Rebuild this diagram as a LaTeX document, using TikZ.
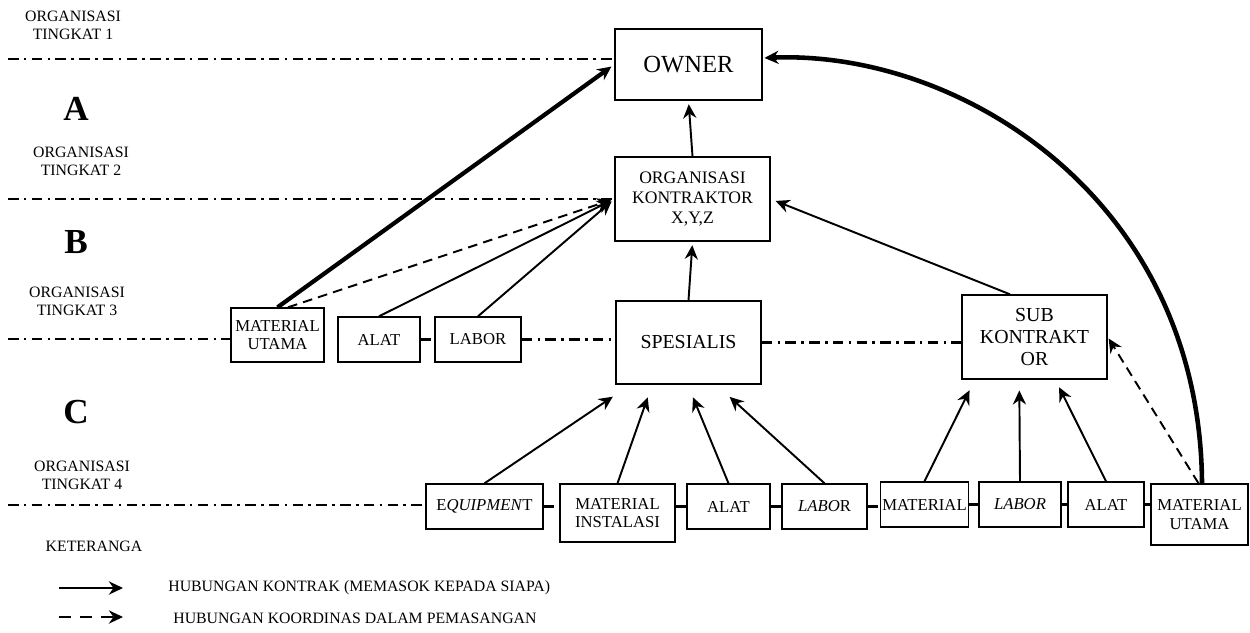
\documentclass[tikz,border=0pt]{standalone}
\usepackage{fontspec}
\setmainfont{Liberation Serif}
\usetikzlibrary{arrows.meta,calc}

\begin{document}
\begin{tikzpicture}[x=0.02cm,y=-0.02cm,
    box/.style={draw, line width=0.8pt, fill=white, align=center, inner sep=1pt, font=\fontsize{9.5}{10.5}\selectfont},
    tierline/.style={line width=1.3pt, dash pattern=on 6pt off 3pt on 1.5pt off 3pt},
    supply/.style={line width=1.1pt, -{Stealth[length=8pt,width=7.5pt]}, shorten >=1pt},
    koord/.style={supply, dash pattern=on 5.5pt off 3.5pt},
    tierlabel/.style={align=center, inner sep=0pt, font=\fontsize{9}{10.3}\selectfont},
    zone/.style={inner sep=0pt, font=\fontsize{20}{20}\selectfont\bfseries},
    legend/.style={anchor=west, inner sep=0pt, font=\fontsize{9}{10}\selectfont}]
        \useasboundingbox (0,0) rectangle (1250,632);

        % 组织层级
        \node[tierlabel] (lv1) at (73,25) {ORGANISASI\\TINGKAT 1};
        \node[zone] (zA) at (76,109) {A};
        \node[tierlabel] (lv2) at (81,161) {ORGANISASI\\TINGKAT 2};
        \node[zone] (zB) at (76,242) {B};
        \node[tierlabel] (lv3) at (77,301) {ORGANISASI\\TINGKAT 3};
        \node[zone] (zC) at (76,412) {C};
        \node[tierlabel] (lv4) at (82,475) {ORGANISASI\\TINGKAT 4};

        % 上层方框
        \node[box, minimum width=2.94cm, minimum height=1.42cm, font=\fontsize{14}{16}\selectfont] (owner) at (688.5,64.5) {OWNER};
        \node[box, minimum width=3.1cm, minimum height=1.68cm, font=\fontsize{10}{11.5}\selectfont] (kontraktor) at (692.5,199) {ORGANISASI\\KONTRAKTOR\\X,Y,Z};
        \node[box, minimum width=2.9cm, minimum height=1.66cm, font=\fontsize{11.3}{13}\selectfont] (spes) at (688.5,342.5) {SPESIALIS};
        \node[box, minimum width=2.9cm, minimum height=1.68cm, font=\fontsize{11.3}{12.5}\selectfont] (subkon) at (1034.5,337) {SUB\\KONTRAKT\\OR};

        % 第三层
        \node[box, minimum width=1.86cm, minimum height=1.08cm] (matutama3) at (277.5,335) {MATERIAL\\UTAMA};
        \node[box, minimum width=1.64cm, minimum height=0.9cm] (alat3) at (379,339.5) {ALAT};
        \node[box, minimum width=1.72cm, minimum height=0.9cm] (labor3) at (478,339.5) {LABOR};

        % 第四层
        \node[box, minimum width=2.34cm, minimum height=0.9cm] (equip) at (484.5,506.5) {E\textit{QUIPMEN}T};
        \node[box, minimum width=2.3cm, minimum height=1.16cm] (matinst) at (617.5,513) {MATERIAL\\INSTALASI};
        \node[box, minimum width=1.66cm, minimum height=0.9cm] (alat4a) at (728.5,506.5) {ALAT};
        \node[box, minimum width=1.7cm, minimum height=0.9cm] (labor4a) at (824.5,506.5) {\textit{LABO}R};
        \node[box, minimum width=1.7cm, minimum height=0.9cm] (material4) at (924.5,504.5) {MATERIAL};
        \node[box, minimum width=1.64cm, minimum height=0.9cm] (labor4b) at (1020,504.5) {\textit{LABOR}};
        \node[box, minimum width=1.52cm, minimum height=0.9cm] (alat4b) at (1106,504.5) {ALAT};
        \node[box, minimum width=1.94cm, minimum height=1.22cm] (matutama4) at (1199.5,514.5) {MATERIAL\\UTAMA};

        % 层级分界线
        \coordinate (t1) at (8,59);
        \coordinate (t2) at (8,199);
        \coordinate (t3) at (8,339);
        \coordinate (t4) at (8,505);
        \draw[tierline] (t1) -- (t1 -| owner.west);
        \draw[tierline] (t2) -- (t2 -| kontraktor.west);
        \draw[tierline] (t3) -- (t3 -| matutama3.west);
        \draw[tierline] (alat3.east) -- (alat3.east -| labor3.west);
        \draw[tierline] (labor3.east) -- (labor3.east -| spes.west);
        \draw[tierline] (spes.east) -- (spes.east -| subkon.west);
        \draw[tierline] (t4) -- (t4 -| equip.west);
        \draw[tierline] (equip.east) -- (equip.east -| matinst.west);
        \draw[tierline] (matinst.east |- alat4a.west) -- (alat4a.west);
        \draw[tierline] (alat4a.east) -- (labor4a.west);
        \draw[tierline] (labor4a.east) -- (labor4a.east -| material4.west);
        \draw[tierline] (material4.east) -- (labor4b.west);
        \draw[tierline] (labor4b.east) -- (alat4b.west);
        \draw[tierline] (alat4b.east) -- (alat4b.east -| matutama4.west);

        % 合同关系
        \draw[supply, line width=2.4pt, shorten >=2pt] (matutama3.north) -- (owner.west);
        \draw[koord, shorten >=2pt] ([xshift=0.21cm]matutama3.north) -- (kontraktor.west);
        \draw[supply, shorten >=2pt] (alat3.north) -- (kontraktor.west);
        \draw[supply, shorten >=2pt] (labor3.north) -- (kontraktor.west);
        \draw[supply, shorten >=2pt] (kontraktor.north) -- (owner.south);
        \draw[supply, shorten >=2pt] (spes.north) -- (kontraktor.south);
        \draw[supply, shorten >=3pt] ([xshift=-0.49cm]subkon.north) -- (kontraktor.east);

        \draw[supply] (equip.north) -- ($(spes.south west)+(-1,11)$);
        \draw[supply] (matinst.north) -- ($(spes.south west)+(33,11)$);
        \draw[supply] (alat4a.north) -- ($(spes.south west)+(77,11)$);
        \draw[supply] (labor4a.north) -- ($(spes.south west)+(113,11)$);

        \draw[supply] (material4.north) -- ($(subkon.south west)+(9,9)$);
        \draw[supply] (labor4b.north) -- ($(subkon.south west)+(58,9)$);
        \draw[supply] (alat4b.north) -- ($(subkon.south west)+(97,6)$);
        \draw[koord] ([xshift=-0.02cm]matutama4.north) -- (subkon.east);

        % 弧线
        \draw[supply, line width=2.6pt] ([xshift=0.05cm]matutama4.north) .. controls +(-2,-284) and +(198,-8) .. (owner.5);

        % 图例
        \node[legend, anchor=center] (ket) at (94,546) {KETERANGA};
        \coordinate (l1a) at (59,588);
        \coordinate (l1b) at (123,588);
        \coordinate (l2a) at (59,617);
        \coordinate (l2b) at (123,617);
        \draw[supply, line width=1.4pt, shorten >=0pt] (l1a) -- (l1b);
        \draw[supply, line width=1.4pt, shorten >=0pt, dash pattern=on 7pt off 5pt] (l2a) -- (l2b);
        \node[legend] (ket1) at (168,588) {HUBUNGAN KONTRAK (MEMASOK KEPADA SIAPA)};
        \node[legend] (ket2) at (173,618) {HUBUNGAN KOORDINAS DALAM PEMASANGAN};

    \end{tikzpicture}
\end{document}
